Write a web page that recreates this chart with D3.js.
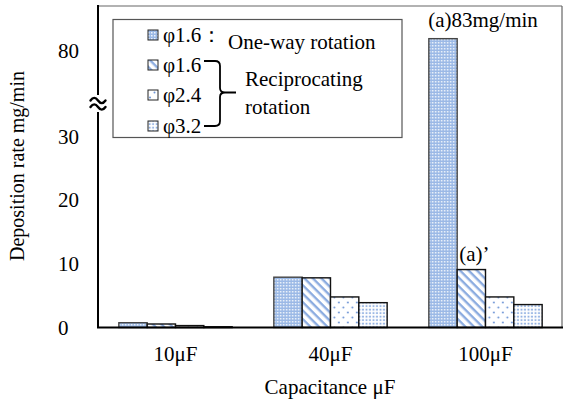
<!DOCTYPE html>
<html>
<head>
<meta charset="utf-8">
<script src="https://cdn.jsdelivr.net/npm/d3@7"></script>
<style>
  body { margin: 0; background: #fff; }
  svg text { font-family: "Liberation Serif", "Times New Roman", Times, "DejaVu Serif", serif; fill: #000; }
</style>
</head>
<body>
<svg id="chart" width="563" height="401"></svg>
<script>
// data
var categories = ["10μF", "40μF", "100μF"];
var seriesNames = ["oneWay16", "recip16", "recip24", "recip32"];
var oneWay16 = [0.75, 7.9, 83];
var recip16 = [0.55, 7.8, 9.1];
var recip24 = [0.3, 4.8, 4.8];
var recip32 = [0.12, 3.9, 3.6];
var yTicks = [0, 10, 20, 30, 80];
var legendLabels = ["φ1.6：", "φ1.6", "φ2.4", "φ3.2"];

var seriesValues = [oneWay16, recip16, recip24, recip32];

var svg = d3.select("#chart");
var plotLeft = 98, plotRight = 562, plotTop = 6, plotBottom = 327.5;
var fs = "21px";

var defs = svg.append("defs");

// pattern 1: light blue with fine white checker
var p1 = defs.append("pattern").attr("id", "pat0")
  .attr("width", 3).attr("height", 3).attr("patternUnits", "userSpaceOnUse");
p1.append("rect").attr("width", 3).attr("height", 3).attr("fill", "#9bb9e6");
p1.append("rect").attr("width", 1.5).attr("height", 1.5).attr("fill", "#eef3fb");

// pattern 2: diagonal stripes
var p2 = defs.append("pattern").attr("id", "pat1")
  .attr("width", 6).attr("height", 6).attr("patternUnits", "userSpaceOnUse")
  .attr("patternTransform", "rotate(45)");
p2.append("rect").attr("width", 6).attr("height", 6).attr("fill", "#fff");
p2.append("rect").attr("width", 6).attr("height", 2.4).attr("fill", "#8cace0");

// pattern 3: sparse dots
var p3 = defs.append("pattern").attr("id", "pat2")
  .attr("width", 9).attr("height", 10).attr("patternUnits", "userSpaceOnUse");
p3.append("rect").attr("width", 9).attr("height", 10).attr("fill", "#fff");
p3.append("circle").attr("cx", 2).attr("cy", 2.5).attr("r", 1).attr("fill", "#6f96d6");
p3.append("circle").attr("cx", 6.5).attr("cy", 7.5).attr("r", 1).attr("fill", "#6f96d6");

// pattern 4: dense dot grid
var p4 = defs.append("pattern").attr("id", "pat3")
  .attr("width", 3.5).attr("height", 3.5).attr("patternUnits", "userSpaceOnUse");
p4.append("rect").attr("width", 3.5).attr("height", 3.5).attr("fill", "#fff");
p4.append("rect").attr("x", 0.7).attr("y", 0.7).attr("width", 1.8).attr("height", 1.8).attr("fill", "#8aabe0");

var strokes = ["#444", "#111", "#111", "#111"];

var x0 = d3.scaleBand()
  .domain(categories)
  .range([plotLeft, plotLeft + 465])
  .paddingInner(0.269)
  .paddingOuter(0.1345);

var x1 = d3.scaleBand()
  .domain(seriesNames)
  .range([0, x0.bandwidth()]);

// broken axis: lower part 0..34, upper part 68..91.4
var y = d3.scaleLinear()
  .domain([0, 34, 68, 91.4])
  .range([plotBottom, 111, 97, plotTop]);

// frame top/right
svg.append("line").attr("x1", plotLeft).attr("x2", plotRight).attr("y1", plotTop).attr("y2", plotTop)
  .attr("stroke", "#666").attr("stroke-width", 1.2);
svg.append("line").attr("x1", plotRight).attr("x2", plotRight).attr("y1", plotTop).attr("y2", plotBottom)
  .attr("stroke", "#666").attr("stroke-width", 1.2);

// bars
var groups = svg.append("g").selectAll("g")
  .data(categories)
  .join("g")
  .attr("transform", function(d) { return "translate(" + x0(d) + ",0)"; });

groups.selectAll("rect")
  .data(function(d, i) {
    return seriesNames.map(function(s, k) { return { key: s, k: k, value: seriesValues[k][i] }; });
  })
  .join("rect")
  .attr("x", function(d) { return x1(d.key); })
  .attr("y", function(d) { return y(d.value); })
  .attr("width", x1.bandwidth())
  .attr("height", function(d) { return plotBottom - y(d.value); })
  .attr("fill", function(d) { return "url(#pat" + d.k + ")"; })
  .attr("stroke", function(d) { return strokes[d.k]; })
  .attr("stroke-width", 1.4);

// left axis with break
var yAxis = svg.append("g")
  .attr("transform", "translate(" + plotLeft + ",0)")
  .call(d3.axisLeft(y).tickValues(yTicks).tickSize(0).tickFormat(d3.format("d")));
yAxis.attr("font-family", null);
yAxis.select(".domain").remove();
yAxis.selectAll("text")
  .attr("x", 58 - plotLeft).attr("text-anchor", "start")
  .style("font-size", fs);

svg.append("line").attr("x1", plotLeft).attr("x2", plotLeft).attr("y1", plotBottom).attr("y2", 112)
  .attr("stroke", "#000").attr("stroke-width", 2);
svg.append("line").attr("x1", plotLeft).attr("x2", plotLeft).attr("y1", 95).attr("y2", plotTop - 1)
  .attr("stroke", "#000").attr("stroke-width", 2);
// break mark: two bold tildes
var tilde = "c2.5,-3.5 5,-3.5 7.5,0 c2.5,3.5 5,3.5 7.5,0";
svg.append("path")
  .attr("d", "M90.5,100.5 " + tilde + " M90.5,107 " + tilde)
  .attr("fill", "none").attr("stroke", "#000").attr("stroke-width", 2.4)
  .attr("stroke-linecap", "round");

// bottom axis
var xAxis = svg.append("g")
  .attr("transform", "translate(0," + plotBottom + ")")
  .call(d3.axisBottom(x0).tickSize(0).tickPadding(19));
xAxis.attr("font-family", null);
xAxis.select(".domain").remove();
xAxis.selectAll("text").style("font-size", fs);
svg.append("line").attr("x1", plotLeft - 1).attr("x2", 563).attr("y1", plotBottom).attr("y2", plotBottom)
  .attr("stroke", "#000").attr("stroke-width", 2.2);

// axis titles
svg.append("text").attr("x", 330).attr("y", 394).attr("text-anchor", "middle")
  .style("font-size", fs).text("Capacitance μF");
svg.append("text").attr("transform", "translate(24,166) rotate(-90)").attr("text-anchor", "middle")
  .style("font-size", "20px").text("Deposition rate mg/min");

// annotations
svg.append("text").attr("x", x0("100μF") + x1("oneWay16") + x1.bandwidth() / 2 + 40)
  .attr("y", 27).attr("text-anchor", "middle")
  .style("font-size", fs).text("(a)83mg/min");
svg.append("text").attr("x", x0("100μF") + x1("recip16") + x1.bandwidth() / 2 + 3)
  .attr("y", 261).attr("text-anchor", "middle")
  .style("font-size", fs).text("(a)’");

// legend
var legend = svg.append("g");
legend.append("rect").attr("x", 113).attr("y", 19.5).attr("width", 289).attr("height", 118)
  .attr("fill", "#fff").attr("stroke", "#555").attr("stroke-width", 1.2);
var rowY = [35, 65, 95, 126];
var items = legend.selectAll("g.item")
  .data(legendLabels)
  .join("g").attr("class", "item")
  .attr("transform", function(d, i) { return "translate(148," + rowY[i] + ")"; });
items.append("rect").attr("x", 0).attr("y", -5).attr("width", 10).attr("height", 10)
  .attr("fill", function(d, i) { return "url(#pat" + i + ")"; })
  .attr("stroke", "#222").attr("stroke-width", 1);
items.append("text").attr("x", 15).attr("y", 7)
  .style("font-size", fs).text(function(d) { return d; });

legend.append("text").attr("x", 228).attr("y", 49).style("font-size", fs).text("One-way rotation");
legend.append("text").attr("x", 245).attr("y", 86).style("font-size", fs).text("Reciprocating");
legend.append("text").attr("x", 245).attr("y", 114).style("font-size", fs).text("rotation");

// brace joining the reciprocating rows
legend.append("path")
  .attr("d", "M204,61 L215,61 Q220,61 220,66 L220,88 Q220,92.5 225,92.5 L236,92.5 " +
             "M225,92.5 Q220,92.5 220,97 L220,121 Q220,126 215,126 L204,126")
  .attr("fill", "none").attr("stroke", "#000").attr("stroke-width", 1.8);
</script>
</body>
</html>
